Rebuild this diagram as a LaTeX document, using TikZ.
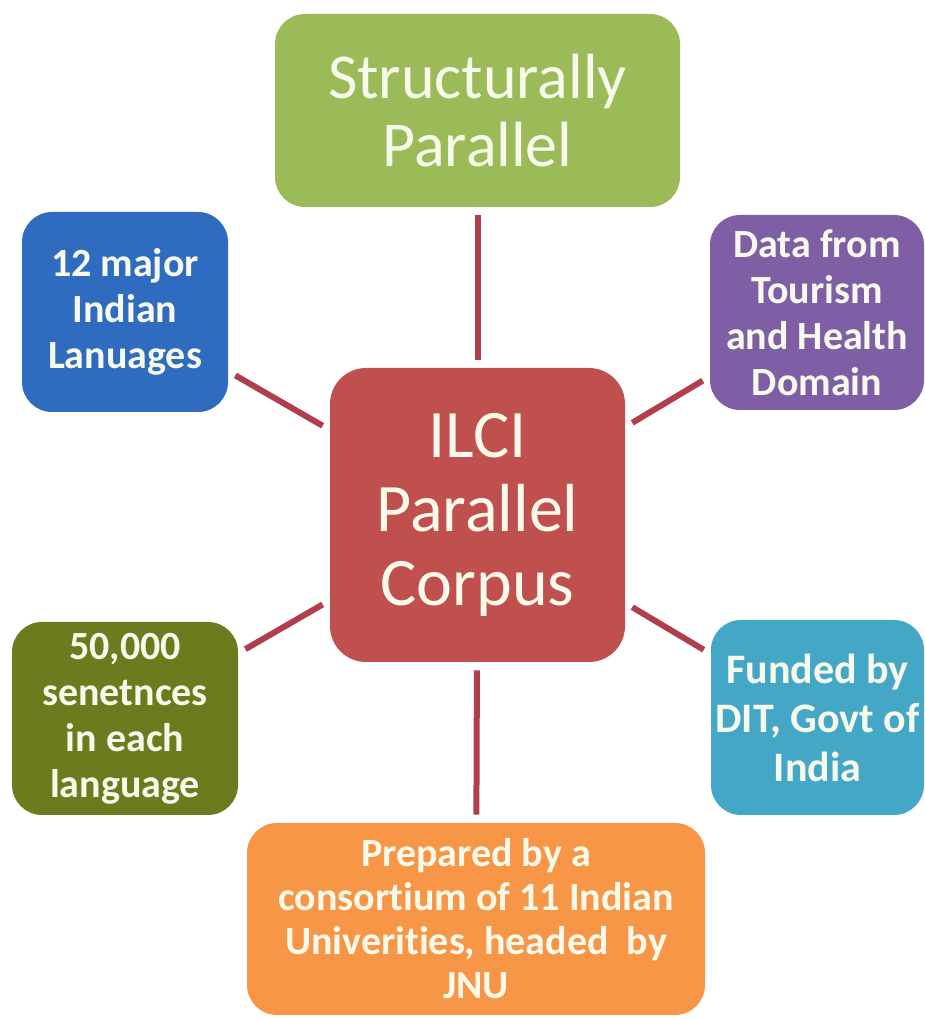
\documentclass[tikz,border=0pt]{standalone}
\usepackage{fontspec}
\setmainfont{Carlito}[Ligatures={NoCommon,NoRequired,NoContextual}]

\definecolor{grn}{HTML}{9BBB59}
\definecolor{blu}{HTML}{2F6CC0}
\definecolor{pur}{HTML}{7E5FA6}
\definecolor{crim}{HTML}{C0504D}
\definecolor{olv}{HTML}{6B7B1E}
\definecolor{tea}{HTML}{45A7C6}
\definecolor{orng}{HTML}{F79646}
\definecolor{linkred}{HTML}{B03E4D}
\definecolor{cream}{HTML}{F7F9EA}

\tikzset{
	box/.style={rounded corners=15pt, text=cream, align=center, inner sep=0pt},
	bigbox/.style={box, font=\fontsize{32}{34}\selectfont},
	smallbox/.style={box, font=\bfseries\fontsize{20}{23}\selectfont},
	link/.style={line width=3pt, draw=linkred, shorten <=4pt, shorten >=4pt}
}

\begin{document}
\begin{tikzpicture}[x=0.5pt,y=0.5pt]
		\useasboundingbox (0,0) rectangle (925,1019);
		% hub
		\node[bigbox, fill=crim, minimum width=147.5pt, minimum height=147pt, rounded corners=18pt, font=\fontsize{34}{37}\selectfont] (ilci) at (477.5,504) {ILCI\\Parallel\\Corpus};
		% satellites
		\node[bigbox, fill=grn, minimum width=202.5pt, minimum height=96.5pt] (struct) at (477.5,908.5) {Structurally\\Parallel};
		\node[smallbox, fill=blu, minimum width=103pt, minimum height=100pt] (langs) at (125,707) {12 major\\Indian\\Lanuages};
		\node[smallbox, fill=pur, minimum width=107pt, minimum height=97.5pt] (domain) at (817,706.5) {Data from\\Tourism\\and Health\\Domain};
		\node[smallbox, fill=olv, minimum width=113pt, minimum height=96.5pt] (sents) at (125,300.5) {50,000\\senetnces\\in each\\language};
		\node[smallbox, fill=tea, minimum width=106.5pt, minimum height=97.5pt, font=\bfseries\fontsize{21}{24.5}\selectfont] (fund) at (817.5,301.5) {Funded by\\DIT, Govt of\\India};
		\node[smallbox, fill=orng, minimum width=229pt, minimum height=96pt, font=\bfseries\fontsize{20}{22}\selectfont] (prep) at (476,100) {Prepared by a\\consortium of 11 Indian\\Univerities, headed~ by\\JNU};
		% spokes
		\foreach \s in {struct,langs,domain,sents,fund,prep}
			\draw[link] (ilci) -- (\s);
	\end{tikzpicture}
\end{document}
